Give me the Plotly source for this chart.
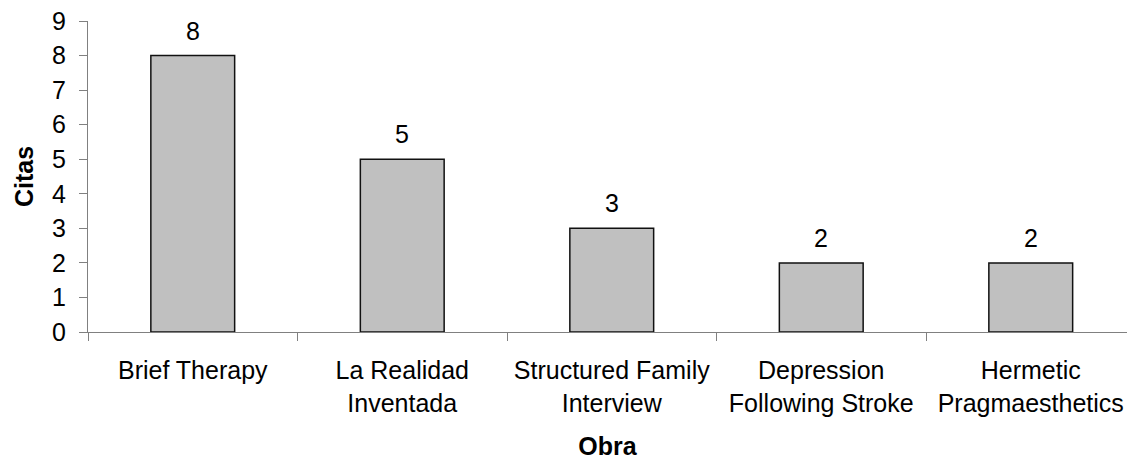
import plotly.graph_objects as go

AXIS = "#808080"
TEXT = "#000000"
FONT = "Arial, 'Liberation Sans', sans-serif"

obras = [
    "Brief Therapy",
    "La Realidad<br>Inventada",
    "Structured Family<br>Interview",
    "Depression<br>Following Stroke",
    "Hermetic<br>Pragmaesthetics",
]
citas = [8, 5, 3, 2, 2]

fig = go.Figure()
fig.add_trace(go.Bar(
    x=obras, y=citas,
    marker=dict(color="#C0C0C0", line=dict(color="#111111", width=1.5)),
    hoverinfo="x+y", showlegend=False,
))

for o, c in zip(obras, citas):
    fig.add_annotation(
        x=o, y=c, text=str(c), showarrow=False,
        yanchor="middle", yshift=25,
        font=dict(size=25, color=TEXT, family=FONT),
    )

fig.update_layout(
    width=1127, height=460,
    margin=dict(l=88, r=0, t=21, b=128),
    paper_bgcolor="white", plot_bgcolor="white",
    bargap=0.6,
    font=dict(family=FONT, color=TEXT, size=25),
    xaxis=dict(
        type="category", automargin=False,
        range=[-0.5, -0.5 + 1039 / 209.5],
        showline=True, linecolor=AXIS, linewidth=1,
        ticks="outside", tickson="boundaries", ticklen=8, tickcolor=AXIS,
        ticklabelstandoff=16,
        tickfont=dict(size=25),
        showgrid=False, zeroline=False,
        title=dict(text="<b>Obra</b>", font=dict(size=25), standoff=28),
    ),
    yaxis=dict(
        range=[0, 9], dtick=1, automargin=False,
        showline=True, linecolor=AXIS, linewidth=1,
        ticks="outside", ticklen=8, tickcolor=AXIS,
        ticklabelstandoff=8,
        tickfont=dict(size=25),
        showgrid=False, zeroline=False,
        title=dict(text="<b>Citas</b>", font=dict(size=25), standoff=11),
    ),
)

# drop the page's default body margin so the figure fills the window
fig.write_html(
    "out.html",
    config={"displayModeBar": False},
    post_script="document.body.style.margin='0';document.body.style.overflow='hidden';",
)
